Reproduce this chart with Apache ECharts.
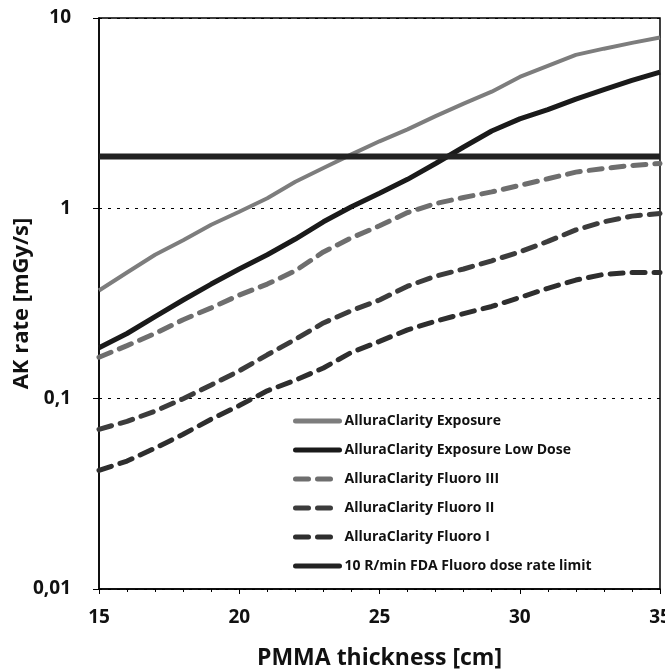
<!DOCTYPE html>
<html>
<head>
<meta charset="utf-8">
<script src="https://cdn.jsdelivr.net/npm/echarts@6/dist/echarts.min.js"></script>
<style>
  html, body { margin: 0; padding: 0; background: #fff; }
  #chart { width: 665px; height: 671px; }
</style>
</head>
<body>
<div id="chart"></div>
<script>
// PMMA thickness in cm
var thickness = [15, 16, 17, 18, 19, 20, 21, 22, 23, 24, 25, 26, 27, 28, 29, 30, 31, 32, 33, 34, 35];

// AK rate in mGy/s
var exposure = [0.37, 0.46, 0.57, 0.68, 0.82, 0.96, 1.13, 1.38, 1.63, 1.92, 2.25, 2.6, 3.05, 3.55, 4.1, 4.9, 5.6, 6.4, 6.9, 7.4, 7.9];
var exposureLow = [0.185, 0.22, 0.27, 0.33, 0.40, 0.48, 0.57, 0.69, 0.85, 1.02, 1.2, 1.42, 1.72, 2.1, 2.55, 2.95, 3.3, 3.75, 4.2, 4.7, 5.2];
var fluoro3 = [0.165, 0.19, 0.22, 0.26, 0.30, 0.35, 0.40, 0.47, 0.59, 0.70, 0.81, 0.95, 1.06, 1.14, 1.22, 1.32, 1.43, 1.55, 1.62, 1.68, 1.72];
var fluoro2 = [0.069, 0.076, 0.086, 0.10, 0.118, 0.14, 0.17, 0.205, 0.25, 0.29, 0.33, 0.39, 0.44, 0.48, 0.53, 0.59, 0.67, 0.77, 0.85, 0.91, 0.94];
var fluoro1 = [0.042, 0.047, 0.055, 0.065, 0.078, 0.092, 0.11, 0.125, 0.145, 0.175, 0.2, 0.23, 0.255, 0.28, 0.305, 0.34, 0.38, 0.42, 0.45, 0.46, 0.46];
var fdaLimit = 1.87;

var names = [
  'AlluraClarity Exposure',
  'AlluraClarity Exposure Low Dose',
  'AlluraClarity Fluoro III',
  'AlluraClarity Fluoro II',
  'AlluraClarity Fluoro I',
  '10 R/min FDA Fluoro dose rate limit'
];

function pairs(ys) {
  return thickness.map(function (x, i) { return [x, ys[i]]; });
}

var font = '"Open Sans", Lato, sans-serif';
var dash = [13, 9];

var chart = echarts.init(document.getElementById('chart'));
var option = {
  animation: false,
  grid: {
    left: 99, right: 5, top: 18, bottom: 82,
    outerBoundsMode: 'none',
    containLabel: false,
    show: true, borderColor: '#000', borderWidth: 1.5
  },
  legend: {
    orient: 'vertical',
    left: 288,
    top: 409,
    itemWidth: 44,
    itemHeight: 14,
    itemGap: 15,
    data: names,
    itemStyle: { color: 'transparent', borderWidth: 0 },
    lineStyle: { width: 5, cap: 'round' },
    textStyle: { fontFamily: font, fontSize: 14, fontWeight: 'bold', color: '#111' }
  },
  xAxis: {
    type: 'value',
    min: 15,
    max: 35,
    interval: 5,
    name: 'PMMA thickness [cm]',
    nameLocation: 'middle',
    nameGap: 58,
    nameMoveOverlap: false,
    nameTextStyle: { fontFamily: font, fontSize: 23, fontWeight: 'bold', color: '#111' },
    axisLine: { lineStyle: { color: '#000', width: 1.5 } },
    axisTick: { show: true, length: 5, lineStyle: { color: '#000' } },
    minorTick: { show: true, splitNumber: 5, length: 3, lineStyle: { color: '#000' } },
    splitLine: { show: false },
    axisLabel: { fontFamily: font, fontSize: 19, fontWeight: 'bold', color: '#111', margin: 19 }
  },
  yAxis: {
    type: 'log',
    logBase: 10,
    min: 0.01,
    max: 10,
    name: 'AK rate [mGy/s]',
    nameLocation: 'middle',
    nameGap: 66,
    nameMoveOverlap: false,
    nameTextStyle: { fontFamily: font, fontSize: 22, fontWeight: 'bold', color: '#111' },
    axisLine: { show: true, lineStyle: { color: '#000', width: 1.5 } },
    axisTick: { show: true, length: 6, lineStyle: { color: '#000' } },
    splitLine: { show: true, lineStyle: { color: '#000', type: [3, 6], width: 1 } },
    axisLabel: {
      fontFamily: font, fontSize: 19, fontWeight: 'bold', color: '#111', margin: 28,
      formatter: function (v) { return String(v).replace('.', ','); }
    }
  },
  series: [
    {
      name: names[0], type: 'line', symbol: 'none', data: pairs(exposure),
      lineStyle: { color: '#7d7d7d', width: 4 }, itemStyle: { color: '#7d7d7d' }
    },
    {
      name: names[1], type: 'line', symbol: 'none', data: pairs(exposureLow),
      lineStyle: { color: '#1a1a1a', width: 5 }, itemStyle: { color: '#1a1a1a' }
    },
    {
      name: names[2], type: 'line', symbol: 'none', data: pairs(fluoro3),
      lineStyle: { color: '#6e6e6e', width: 5, type: dash, cap: 'round' }, itemStyle: { color: '#6e6e6e' }
    },
    {
      name: names[3], type: 'line', symbol: 'none', data: pairs(fluoro2),
      lineStyle: { color: '#3c3c3c', width: 5, type: dash, cap: 'round' }, itemStyle: { color: '#3c3c3c' }
    },
    {
      name: names[4], type: 'line', symbol: 'none', data: pairs(fluoro1),
      lineStyle: { color: '#2e2e2e', width: 5, type: dash, cap: 'round' }, itemStyle: { color: '#2e2e2e' }
    },
    {
      name: names[5], type: 'line', symbol: 'none',
      data: [[thickness[0], fdaLimit], [thickness[thickness.length - 1], fdaLimit]],
      lineStyle: { color: '#222', width: 6 }, itemStyle: { color: '#222' }
    }
  ]
};
chart.setOption(option);
window.addEventListener('resize', function () {
  chart.resize();
});
</script>
</body>
</html>
